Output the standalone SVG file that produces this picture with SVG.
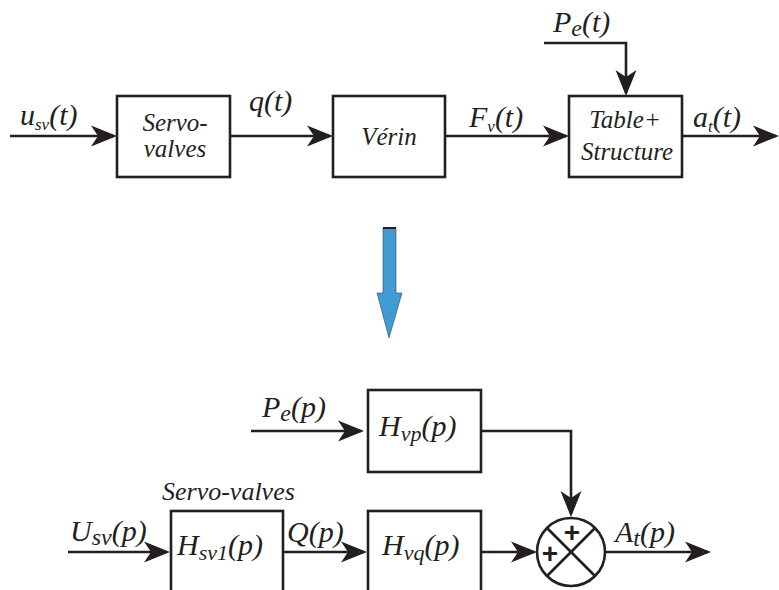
<svg xmlns="http://www.w3.org/2000/svg" width="779" height="590" viewBox="0 0 779 590">
<defs>
<marker id="ah" markerUnits="userSpaceOnUse" markerWidth="32" markerHeight="24" viewBox="-2 -12 32 24" refX="26" refY="0" orient="auto">
<path d="M29,0 L3,-10.5 L10,0 L3,10.5 Z" fill="#231f20" stroke="none"/>
</marker>
</defs>
<rect width="779" height="590" fill="#ffffff"/>

<g id="connectors" fill="none" stroke="#231f20" stroke-width="2.6">
<line x1="10" y1="136" x2="114" y2="136" marker-end="url(#ah)"/>
<line x1="230" y1="136" x2="330" y2="136" marker-end="url(#ah)"/>
<line x1="445" y1="136" x2="566" y2="136" marker-end="url(#ah)"/>
<line x1="682" y1="136" x2="776" y2="136" marker-end="url(#ah)"/>
<polyline points="544,43 626,43 626,93" marker-end="url(#ah)"/>
<line x1="251" y1="431" x2="361" y2="431" marker-end="url(#ah)"/>
<polyline points="481,431 571,431 571,514" marker-end="url(#ah)"/>
<line x1="68" y1="552" x2="167" y2="552" marker-end="url(#ah)"/>
<line x1="283" y1="552" x2="364" y2="552" marker-end="url(#ah)"/>
<line x1="481" y1="552" x2="534" y2="552" marker-end="url(#ah)"/>
<line x1="605" y1="552" x2="708" y2="552" marker-end="url(#ah)"/>
</g>

<g id="labels">
<text x="20" y="125" font-family="Liberation Serif" font-style="italic" font-size="30" fill="#231f20">u<tspan font-size="17" dy="5">sv</tspan><tspan dy="-5">(t)</tspan></text>
<text x="249" y="111" font-family="Liberation Serif" font-style="italic" font-size="30" fill="#231f20">q(t)</text>
<text x="469" y="127" font-family="Liberation Serif" font-style="italic" font-size="30" fill="#231f20">F<tspan font-size="17" dy="5">v</tspan><tspan dy="-5">(t)</tspan></text>
<text x="693" y="127" font-family="Liberation Serif" font-style="italic" font-size="30" fill="#231f20">a<tspan font-size="17" dy="5">t</tspan><tspan dy="-5">(t)</tspan></text>
<text x="553" y="32" font-family="Liberation Serif" font-style="italic" font-size="30" fill="#231f20">P<tspan font-size="24" dy="4">e</tspan><tspan dy="-4">(t)</tspan></text>
<text x="262" y="417" font-family="Liberation Serif" font-style="italic" font-size="30" fill="#231f20">P<tspan font-size="24" dy="4">e</tspan><tspan dy="-4">(p)</tspan></text>
<text x="162" y="500" font-family="Liberation Serif" font-style="italic" font-size="26" fill="#231f20">Servo-valves</text>
<text x="70" y="541" font-family="Liberation Serif" font-style="italic" font-size="30" fill="#231f20">U<tspan font-size="24" dy="4">sv</tspan><tspan dy="-4">(p)</tspan></text>
<text x="287" y="542" font-family="Liberation Serif" font-style="italic" font-size="30" fill="#231f20">Q(p)</text>
<text x="615" y="542" font-family="Liberation Serif" font-style="italic" font-size="30" fill="#231f20">A<tspan font-size="24" dy="4">t</tspan><tspan dy="-4">(p)</tspan></text>
</g>

<g id="servo">
<rect x="117" y="96" width="113" height="81" fill="#ffffff" stroke="#231f20" stroke-width="2.6"/>
<text x="175" y="131" text-anchor="middle" font-family="Liberation Serif" font-style="italic" font-size="25" fill="#231f20">Servo-</text>
<text x="175" y="157" text-anchor="middle" font-family="Liberation Serif" font-style="italic" font-size="25" fill="#231f20">valves</text>
</g>
<g id="verin">
<rect x="333" y="96" width="112" height="81" fill="#ffffff" stroke="#231f20" stroke-width="2.6"/>
<text x="389" y="145" text-anchor="middle" font-family="Liberation Serif" font-style="italic" font-size="25" fill="#231f20">V&#233;rin</text>
</g>
<g id="table">
<rect x="569" y="96" width="113" height="81" fill="#ffffff" stroke="#231f20" stroke-width="2.6"/>
<text x="625" y="128" text-anchor="middle" font-family="Liberation Serif" font-style="italic" font-size="25" fill="#231f20">Table+</text>
<text x="627" y="160" text-anchor="middle" font-family="Liberation Serif" font-style="italic" font-size="25" fill="#231f20">Structure</text>
</g>

<g id="bigarrow">
<path d="M383,228 L396,228 L396,293 L402,293 L389,338 L377,293 L383,293 Z" fill="#3f9bd2" stroke="#2a4a60" stroke-width="0.6"/>
<line x1="383" y1="228" x2="396" y2="228" stroke="#231f20" stroke-width="2"/>
</g>

<g id="hvp">
<rect x="368" y="390" width="113" height="82" fill="#ffffff" stroke="#231f20" stroke-width="2.6"/>
<text x="379" y="436" font-family="Liberation Serif" font-style="italic" font-size="30" fill="#231f20">H<tspan font-size="22" dy="5">vp</tspan><tspan dy="-5">(p)</tspan></text>
</g>
<g id="hsv1">
<rect x="171" y="511" width="112" height="100" fill="#ffffff" stroke="#231f20" stroke-width="2.6"/>
<text x="177" y="555" font-family="Liberation Serif" font-style="italic" font-size="30" fill="#231f20">H<tspan font-size="22" dy="5">sv1</tspan><tspan dy="-5">(p)</tspan></text>
</g>
<g id="hvq">
<rect x="368" y="511" width="113" height="100" fill="#ffffff" stroke="#231f20" stroke-width="2.6"/>
<text x="382" y="555" font-family="Liberation Serif" font-style="italic" font-size="30" fill="#231f20">H<tspan font-size="22" dy="5">vq</tspan><tspan dy="-5">(p)</tspan></text>
</g>
<g id="sum">
<circle cx="571" cy="552" r="34" fill="#ffffff" stroke="#231f20" stroke-width="2.6"/>
<line x1="547" y1="528" x2="595" y2="576" stroke="#231f20" stroke-width="2.6"/>
<line x1="595" y1="528" x2="547" y2="576" stroke="#231f20" stroke-width="2.6"/>
<text x="572" y="542" text-anchor="middle" font-family="Liberation Sans" font-weight="bold" font-size="28" fill="#231f20">+</text>
<text x="550" y="563" text-anchor="middle" font-family="Liberation Sans" font-weight="bold" font-size="28" fill="#231f20">+</text>
</g>
</svg>
